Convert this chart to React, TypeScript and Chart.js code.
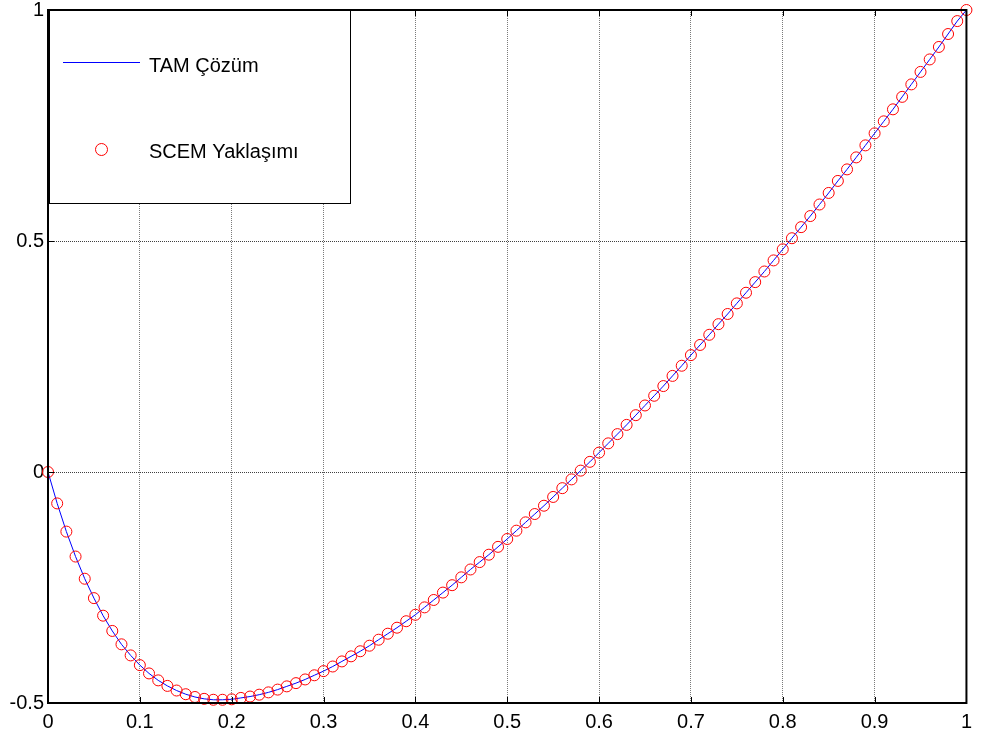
import React, { useEffect, useRef } from "react";
import { Chart, registerables } from "chart.js";
Chart.register(...registerables);

const xValues = [
  0, 0.01, 0.02, 0.03, 0.04, 0.05, 0.06, 0.07, 0.08, 0.09,
  0.1, 0.11, 0.12, 0.13, 0.14, 0.15, 0.16, 0.17, 0.18, 0.19,
  0.2, 0.21, 0.22, 0.23, 0.24, 0.25, 0.26, 0.27, 0.28, 0.29,
  0.3, 0.31, 0.32, 0.33, 0.34, 0.35, 0.36, 0.37, 0.38, 0.39,
  0.4, 0.41, 0.42, 0.43, 0.44, 0.45, 0.46, 0.47, 0.48, 0.49,
  0.5, 0.51, 0.52, 0.53, 0.54, 0.55, 0.56, 0.57, 0.58, 0.59,
  0.6, 0.61, 0.62, 0.63, 0.64, 0.65, 0.66, 0.67, 0.68, 0.69,
  0.7, 0.71, 0.72, 0.73, 0.74, 0.75, 0.76, 0.77, 0.78, 0.79,
  0.8, 0.81, 0.82, 0.83, 0.84, 0.85, 0.86, 0.87, 0.88, 0.89,
  0.9, 0.91, 0.92, 0.93, 0.94, 0.95, 0.96, 0.97, 0.98, 0.99,
  1,
];

const exactValues = [
  0, -0.068, -0.129, -0.183, -0.231, -0.273, -0.311, -0.344, -0.373, -0.397,
  -0.418, -0.436, -0.451, -0.463, -0.473, -0.481, -0.487, -0.491, -0.493, -0.493,
  -0.492, -0.489, -0.486, -0.482, -0.477, -0.471, -0.464, -0.457, -0.449, -0.44,
  -0.431, -0.421, -0.41, -0.399, -0.388, -0.376, -0.363, -0.35, -0.337, -0.323,
  -0.309, -0.293, -0.277, -0.261, -0.245, -0.228, -0.211, -0.195, -0.179, -0.162,
  -0.145, -0.127, -0.109, -0.091, -0.073, -0.054, -0.035, -0.016, 0.003, 0.022,
  0.042, 0.062, 0.082, 0.102, 0.123, 0.144, 0.165, 0.186, 0.208, 0.23,
  0.253, 0.275, 0.297, 0.32, 0.342, 0.365, 0.388, 0.411, 0.434, 0.458,
  0.482, 0.506, 0.53, 0.554, 0.579, 0.604, 0.63, 0.655, 0.681, 0.707,
  0.733, 0.759, 0.785, 0.812, 0.839, 0.866, 0.893, 0.92, 0.948, 0.976,
  1,
];

const scemValues = [
  0, -0.068, -0.129, -0.183, -0.231, -0.273, -0.311, -0.344, -0.373, -0.397,
  -0.418, -0.436, -0.451, -0.463, -0.473, -0.481, -0.487, -0.491, -0.493, -0.493,
  -0.492, -0.489, -0.486, -0.482, -0.477, -0.471, -0.464, -0.457, -0.449, -0.44,
  -0.431, -0.421, -0.41, -0.399, -0.388, -0.376, -0.363, -0.35, -0.337, -0.323,
  -0.309, -0.293, -0.277, -0.261, -0.245, -0.228, -0.211, -0.195, -0.179, -0.162,
  -0.145, -0.127, -0.109, -0.091, -0.073, -0.054, -0.035, -0.016, 0.003, 0.022,
  0.042, 0.062, 0.082, 0.102, 0.123, 0.144, 0.165, 0.186, 0.208, 0.23,
  0.253, 0.275, 0.297, 0.32, 0.342, 0.365, 0.388, 0.411, 0.434, 0.458,
  0.482, 0.506, 0.53, 0.554, 0.579, 0.604, 0.63, 0.655, 0.681, 0.707,
  0.733, 0.759, 0.785, 0.812, 0.839, 0.866, 0.893, 0.92, 0.948, 0.976,
  1,
];

const seriesLabels = ["TAM Çözüm", "SCEM Yaklaşımı"];
const xTicks = [0, 0.1, 0.2, 0.3, 0.4, 0.5, 0.6, 0.7, 0.8, 0.9, 1];
const yTicks = [-0.5, 0, 0.5, 1];

const FONT = "'Liberation Sans', Arial, sans-serif";
const FONT_SIZE = 20;

const fmt = (v: number) => {
  const r = Math.round(v * 10) / 10;
  return r === 0 ? "0" : String(r);
};

const boxPlugin = {
  id: "matlabBox",
  afterDatasetsDraw(chart: any) {
    const { ctx, chartArea, scales } = chart;
    const { left, right, top, bottom } = chartArea;
    const x = scales.x;
    const y = scales.y;
    ctx.save();
    ctx.strokeStyle = "#000";
    ctx.lineWidth = 1;
    const tl = 6;
    ctx.beginPath();
    xTicks.forEach((v) => {
      const px = Math.round(x.getPixelForValue(v)) + 0.5;
      ctx.moveTo(px, bottom);
      ctx.lineTo(px, bottom - tl);
      ctx.moveTo(px, top);
      ctx.lineTo(px, top + tl);
    });
    yTicks.forEach((v) => {
      const py = Math.round(y.getPixelForValue(v)) + 0.5;
      ctx.moveTo(left, py);
      ctx.lineTo(left + tl, py);
      ctx.moveTo(right, py);
      ctx.lineTo(right - tl, py);
    });
    ctx.stroke();

    // legend box
    const lx = Math.round(left) + 1;
    const ly = Math.round(top);
    const lw = 301;
    const lh = 193;
    ctx.fillStyle = "#fff";
    ctx.fillRect(lx, ly, lw, lh);
    ctx.strokeStyle = "#000";
    ctx.lineWidth = 1;
    ctx.strokeRect(lx + 0.5, ly + 0.5, lw, lh);

    ctx.strokeStyle = "#0000ff";
    ctx.lineWidth = 1;
    ctx.beginPath();
    ctx.moveTo(lx + 14, ly + 52.5);
    ctx.lineTo(lx + 91, ly + 52.5);
    ctx.stroke();

    ctx.strokeStyle = "#ff0000";
    ctx.beginPath();
    ctx.arc(lx + 52.5, ly + 139.5, 6, 0, Math.PI * 2);
    ctx.stroke();

    ctx.fillStyle = "#000";
    ctx.font = `${FONT_SIZE}px ${FONT}`;
    ctx.textAlign = "left";
    ctx.textBaseline = "alphabetic";
    ctx.fillText(seriesLabels[0], lx + 100, ly + 62);
    ctx.fillText(seriesLabels[1], lx + 100, ly + 148);

    // axes box
    ctx.strokeStyle = "#000";
    ctx.lineWidth = 2;
    ctx.strokeRect(left, top, right - left, bottom - top);
    ctx.restore();
  },
};

export default function App() {
  const ref = useRef<HTMLCanvasElement | null>(null);
  useEffect(() => {
    if (!ref.current) return;
    const chart = new Chart(ref.current, {
      type: "line",
      data: {
        datasets: [
          {
            label: seriesLabels[1],
            data: xValues.map((x, i) => ({ x, y: scemValues[i] })),
            showLine: false,
            pointStyle: "circle",
            pointRadius: 5.5,
            pointBorderWidth: 1,
            pointBorderColor: "#ff0000",
            pointBackgroundColor: "rgba(0,0,0,0)",
            borderColor: "#ff0000",
            backgroundColor: "rgba(0,0,0,0)",
            clip: false,
          } as any,
          {
            label: seriesLabels[0],
            data: xValues.map((x, i) => ({ x, y: exactValues[i] })),
            borderColor: "#0000ff",
            borderWidth: 1,
            pointRadius: 0,
            tension: 0,
            fill: false,
            clip: false,
          } as any,
        ],
      },
      options: {
        responsive: false,
        animation: false,
        devicePixelRatio: 1,
        layout: { padding: { top: 10, right: 14, left: 0, bottom: 0 } },
        plugins: { legend: { display: false }, tooltip: { enabled: false } },
        scales: {
          x: {
            type: "linear",
            min: 0,
            max: 1,
            afterBuildTicks: (s: any) => {
              s.ticks = xTicks.map((v) => ({ value: v }));
            },
            afterFit: (s: any) => {
              s.height = 32;
            },
            ticks: {
              autoSkip: false,
              maxRotation: 0,
              padding: 10,
              color: "#000",
              font: { family: FONT, size: FONT_SIZE, lineHeight: 0.9 },
              callback: (v: any) => fmt(Number(v)),
            },
            grid: { color: "#7a7a7a", lineWidth: 1, drawTicks: false },
            border: { display: false, dash: [1, 1] },
          },
          y: {
            type: "linear",
            min: -0.5,
            max: 1,
            afterBuildTicks: (s: any) => {
              s.ticks = yTicks.map((v) => ({ value: v }));
            },
            afterFit: (s: any) => {
              s.width = 48;
            },
            ticks: {
              autoSkip: false,
              padding: 4,
              color: "#000",
              font: { family: FONT, size: FONT_SIZE, lineHeight: 0.4 },
              callback: (v: any) => fmt(Number(v)),
            },
            grid: { color: "#404040", lineWidth: 1, drawTicks: false },
            border: { display: false, dash: [1, 1] },
          },
        },
      },
      plugins: [boxPlugin],
    } as any);
    return () => chart.destroy();
  }, []);
  return (
    <div style={{ position: "absolute", left: 0, top: 0, width: 982, height: 735, background: "#fff" }}>
      <canvas ref={ref} width={982} height={735} style={{ width: 982, height: 735 }} />
    </div>
  );
}
